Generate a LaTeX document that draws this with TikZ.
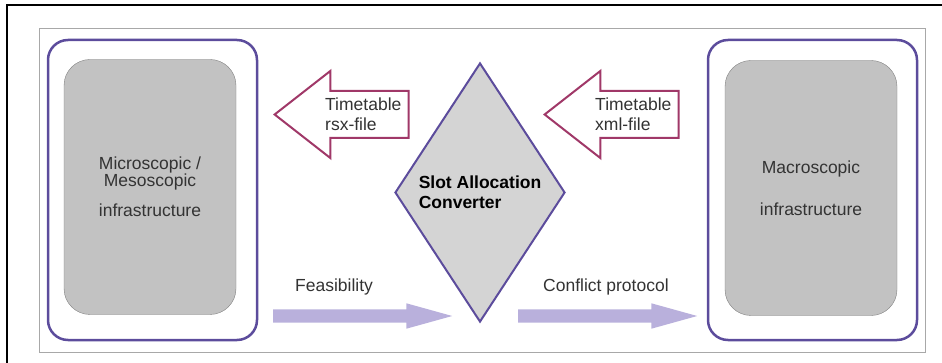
\documentclass[tikz,border=0pt]{standalone}
\usepackage{fontspec}
\setmainfont{Liberation Sans}
\usepackage{tikz}
\usetikzlibrary{positioning, shapes.geometric, shapes.arrows}
\definecolor{framegray}{HTML}{A8A8A8}
\definecolor{slotpurple}{HTML}{5C4C9C}
\definecolor{slotred}{HTML}{A03868}
\definecolor{slotlilac}{HTML}{B9B0DC}
\definecolor{boxgray}{HTML}{C2C2C2}
\definecolor{diagray}{HTML}{D4D4D4}
\definecolor{textgray}{HTML}{333333}
\tikzstyle{outerblock} = [rectangle, draw=slotpurple, line width=2.5pt,
rounded corners=20pt, minimum width=209pt, minimum height=300pt]
\tikzstyle{innerblock} = [rectangle, draw=gray, fill=boxgray, text=textgray,
align=center, rounded corners=26pt, minimum width=172pt, minimum height=255pt]
\tikzstyle{convblock} = [diamond, draw=slotpurple, line width=2pt, fill=diagray,
align=left, inner sep=0pt, minimum width=170pt, minimum height=259pt,
font=\fontsize{17.5}{20}\selectfont\bfseries]
\tikzstyle{filearrow} = [single arrow, draw=slotred, line width=2pt, fill=white,
shape border rotate=180, inner sep=22.5pt, minimum height=134pt,
single arrow head extend=20pt, single arrow tip angle=76, anchor=tip]
\tikzstyle{flowarrow} = [single arrow, fill=slotlilac, inner sep=6.5pt,
minimum height=179pt, single arrow head extend=6pt, single arrow tip angle=31, anchor=tail]
\tikzstyle{txt} = [text=textgray, align=left, anchor=west, inner sep=0pt]

\begin{document}
\begin{tikzpicture}[x=1pt, y=-1pt]
                \tikzstyle{every node}=[font=\fontsize{17.5}{20}\selectfont]
                \useasboundingbox (0,0) rectangle (942,363);
                \draw [black, line width=1.5pt] (7,363) -- (7,5) -- (942,5);
                \draw [framegray] (39,28) rectangle (925,352);
                \node (1) [outerblock] at (152.5,190) {};
                \node (2) [innerblock] at (150,187) {Microscopic /\\[-3pt]Mesoscopic\\[10pt]infrastructure};
                \node (3) [outerblock] at (812.5,190) {};
                \node (4) [innerblock] at (811,188) {Macroscopic\\[22pt]infrastructure};
                \node (5) [convblock] at (480,192.5) {Slot Allocation\\Converter};
                \node (6) [filearrow] at (273,114.5) {};
                \node (7) [txt, right=52pt of 6.tip] {Timetable\\rsx-file};
                \node (8) [filearrow] at (543,114.5) {};
                \node (9) [txt, right=52pt of 8.tip] {Timetable\\xml-file};
                \node (10) [flowarrow] at (273,316) {};
                \node (11) [txt, right=22pt of 10.tail, yshift=29pt] {Feasibility};
                \node (12) [flowarrow] at (518,316) {};
                \node (13) [txt, right=25pt of 12.tail, yshift=29pt] {Conflict protocol};
\end{tikzpicture}
\end{document}
